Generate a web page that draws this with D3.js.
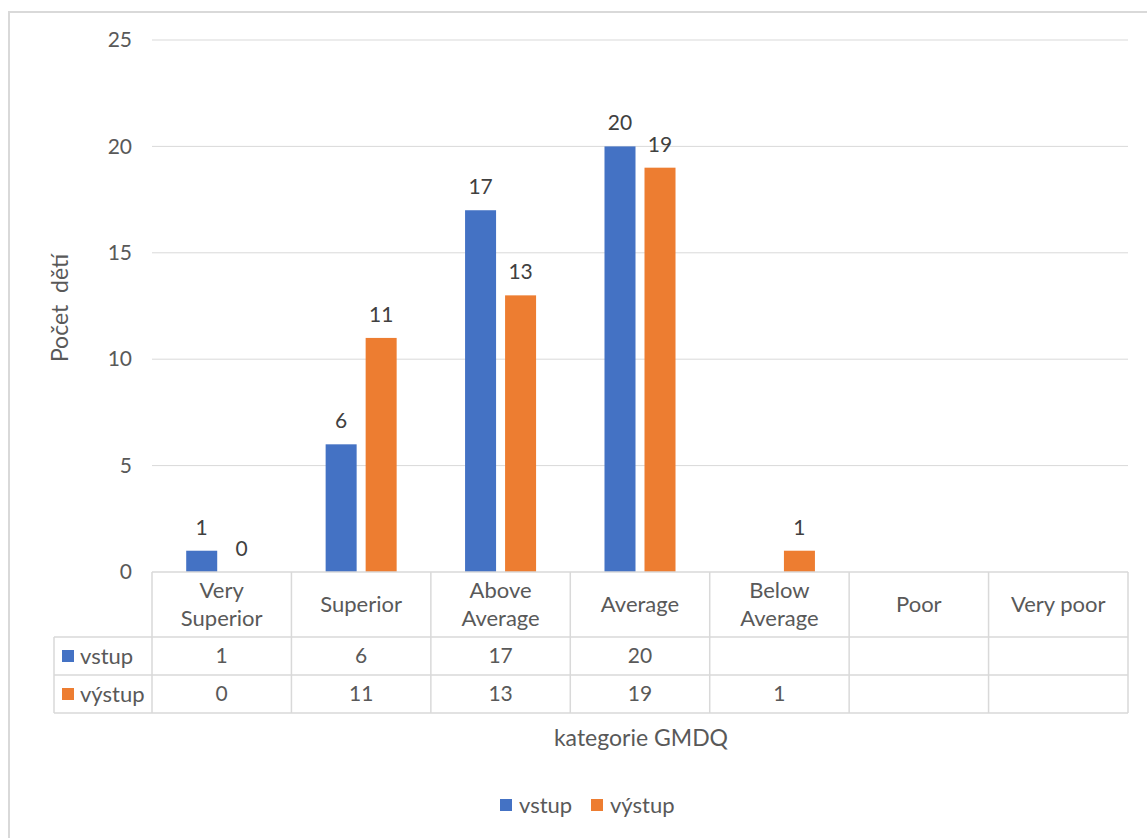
<!DOCTYPE html>
<html>
<head>
<meta charset="utf-8">
<script src="https://cdn.jsdelivr.net/npm/d3@7"></script>
<style>
  html, body { margin: 0; padding: 0; background: #fff; overflow: hidden; }
  svg { display: block; font-family: Lato, "Open Sans", sans-serif; }
</style>
</head>
<body>
<svg id="chart" width="1147" height="838"></svg>
<script>
// Categories (GMDQ bands) and counts of children per series
const categories = ["Very Superior", "Superior", "Above Average", "Average", "Below Average", "Poor", "Very poor"];
const categoryLines = [["Very", "Superior"], ["Superior"], ["Above", "Average"], ["Average"], ["Below", "Average"], ["Poor"], ["Very poor"]];
const seriesNames = ["vstup", "výstup"];
const vstup = [1, 6, 17, 20, null, null, null];
const vystup = [0, 11, 13, 19, 1, null, null];
const yTicks = [0, 5, 10, 15, 20, 25];
const colors = ["#4472C4", "#ED7D31"];

const seriesValues = [vstup, vystup];
const svg = d3.select("#chart");

const plot = { left: 152, right: 1128, top: 40, bottom: 572 };
const textColor = "#595959";
const gridColor = "#d9d9d9";
const wordSize = "22px", numSize = "21px", titleSize = "23px";

// outer chart frame
svg.append("rect")
  .attr("x", 9).attr("y", 12).attr("width", 1200).attr("height", 900)
  .attr("fill", "none").attr("stroke", gridColor).attr("stroke-width", 2);

const x = d3.scaleBand().domain(categories).range([plot.left, plot.right]).padding(0);
const xInner = d3.scaleBand().domain(seriesNames).range([0, x.bandwidth()])
  .paddingInner(0.225).paddingOuter(0.855);
const y = d3.scaleLinear().domain([0, 25]).range([plot.bottom, plot.top]);

// horizontal gridlines
svg.append("g").selectAll("line").data(yTicks.filter(d => d > 0)).join("line")
  .attr("x1", plot.left).attr("x2", plot.right)
  .attr("y1", d => y(d)).attr("y2", d => y(d))
  .attr("stroke", gridColor).attr("stroke-width", 1);

// y axis tick labels
const yAxis = d3.axisLeft(y).tickValues(yTicks).tickSize(0).tickPadding(0).tickFormat(d3.format("d"));
const yg = svg.append("g").attr("transform", `translate(${plot.left - 20},0)`).call(yAxis);
yg.select(".domain").remove();
yg.selectAll("text").attr("fill", textColor).style("font-size", numSize).style("font-family", "Lato, sans-serif");

// y axis title
svg.append("text")
  .attr("transform", `translate(68,${308}) rotate(-90)`)
  .attr("text-anchor", "middle").attr("fill", textColor)
  .style("font-size", titleSize).style("white-space", "pre")
  .text("Počet  dětí");

// bars with value labels
const groups = svg.append("g").selectAll("g").data(seriesNames).join("g")
  .attr("fill", (d, i) => colors[i]);
groups.each(function (s, si) {
  const rows = categories.map((c, ci) => ({ c, v: seriesValues[si][ci] })).filter(d => d.v !== null);
  d3.select(this).selectAll("rect").data(rows).join("rect")
    .attr("x", d => x(d.c) + xInner(s))
    .attr("width", xInner.bandwidth())
    .attr("y", d => y(d.v))
    .attr("height", d => y(0) - y(d.v));
  d3.select(this).selectAll("text").data(rows).join("text")
    .attr("x", d => x(d.c) + xInner(s) + xInner.bandwidth() / 2)
    .attr("y", d => y(d.v) - 16)
    .attr("text-anchor", "middle").attr("fill", "#404040")
    .style("font-size", numSize)
    .text(d => d.v);
});

// data table grid
const rowTop = plot.bottom, headerBottom = 637, row1Bottom = 675, row2Bottom = 713, tableLeft = 54;
const table = svg.append("g").attr("stroke", gridColor).attr("stroke-width", 1.5);
table.append("line").attr("x1", plot.left).attr("x2", plot.right).attr("y1", rowTop).attr("y2", rowTop);
[headerBottom, row1Bottom, row2Bottom].forEach(yy =>
  table.append("line").attr("x1", tableLeft).attr("x2", plot.right).attr("y1", yy).attr("y2", yy));
const bounds = categories.map(c => x(c)).concat([plot.right]);
table.selectAll("line.v").data(bounds).join("line").attr("class", "v")
  .attr("x1", d => d).attr("x2", d => d).attr("y1", rowTop).attr("y2", row2Bottom);
table.append("line").attr("x1", tableLeft).attr("x2", tableLeft).attr("y1", headerBottom).attr("y2", row2Bottom);

// category header labels
const head = svg.append("g").attr("fill", textColor).style("font-size", wordSize).attr("text-anchor", "middle");
categories.forEach((c, ci) => {
  const lines = categoryLines[ci];
  const cy = (rowTop + headerBottom) / 2;
  lines.forEach((ln, li) => {
    head.append("text")
      .attr("x", x(c) + x.bandwidth() / 2)
      .attr("y", cy + (li - (lines.length - 1) / 2) * 28)
      .attr("dy", "0.35em")
      .text(ln);
  });
});

// value rows with legend keys
const rowCenters = [(headerBottom + row1Bottom) / 2, (row1Bottom + row2Bottom) / 2];
seriesNames.forEach((s, si) => {
  const cy = rowCenters[si];
  svg.append("rect").attr("x", 62).attr("y", cy - 6).attr("width", 12).attr("height", 12).attr("fill", colors[si]);
  svg.append("text").attr("x", 80).attr("y", cy).attr("dy", "0.35em")
    .attr("fill", textColor).style("font-size", wordSize).text(s);
  categories.forEach((c, ci) => {
    const v = seriesValues[si][ci];
    if (v === null) return;
    svg.append("text").attr("x", x(c) + x.bandwidth() / 2).attr("y", cy).attr("dy", "0.35em")
      .attr("text-anchor", "middle").attr("fill", textColor).style("font-size", numSize).text(v);
  });
});

// x axis title
svg.append("text").attr("x", 641).attr("y", 738).attr("dy", "0.35em")
  .attr("text-anchor", "middle").attr("fill", textColor).style("font-size", titleSize)
  .text("kategorie GMDQ");

// legend
const legend = svg.append("g").attr("transform", "translate(500,805)");
const legendX = [0, 91];
seriesNames.forEach((s, si) => {
  legend.append("rect").attr("x", legendX[si]).attr("y", -6).attr("width", 12).attr("height", 12).attr("fill", colors[si]);
  legend.append("text").attr("x", legendX[si] + 19).attr("y", 0).attr("dy", "0.35em")
    .attr("fill", textColor).style("font-size", wordSize).text(s);
});
</script>
</body>
</html>
